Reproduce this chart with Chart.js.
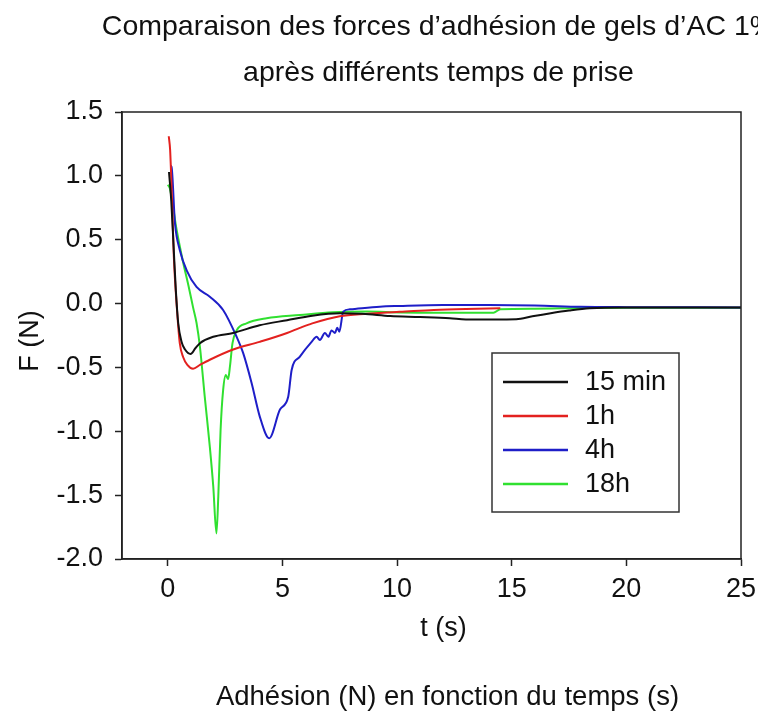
<!DOCTYPE html>
<html lang="fr">
<head>
<meta charset="utf-8">
<title>Comparaison des forces d’adhésion</title>
<script src="https://cdn.jsdelivr.net/npm/chart.js@4.4.1/dist/chart.umd.min.js"></script>
<style>
  html, body { margin: 0; padding: 0; background: #fff; }
  #wrap { width: 758px; height: 717px; position: relative; }
</style>
</head>
<body>
<div id="wrap"><canvas id="chart"></canvas></div>
<script>
// tick labels on the time axis
const xTicks = [0, 5, 10, 15, 20, 25];

// 15 min
const t15min = [0.05, 0.15, 0.25, 0.35, 0.45, 0.6, 0.75, 0.99, 1.2, 1.4, 1.98, 2.85, 4.0, 5.2, 6.3, 7.5, 8.5, 9.7, 11.0, 12.3, 13.0, 14.2, 15.2, 15.9, 16.7, 17.5, 18.4, 20, 22, 25];
const f15min = [1.03, 0.8, 0.45, 0.1, -0.15, -0.3, -0.36, -0.395, -0.35, -0.31, -0.26, -0.23, -0.17, -0.13, -0.095, -0.076, -0.08, -0.097, -0.105, -0.115, -0.125, -0.125, -0.123, -0.1, -0.076, -0.055, -0.037, -0.03, -0.03, -0.03];

// 1h
const t1h = [0.04, 0.1, 0.2, 0.26, 0.4, 0.52, 0.67, 0.85, 1.1, 1.4, 1.83, 2.85, 4.0, 5.2, 5.76, 6.3, 7.5, 8.7, 9.4, 10.1, 11.6, 13.0, 14.5];
const f1h = [1.31, 1.2, 0.7, 0.37, -0.05, -0.31, -0.42, -0.48, -0.51, -0.48, -0.44, -0.36, -0.3, -0.23, -0.19, -0.155, -0.1, -0.08, -0.071, -0.065, -0.05, -0.042, -0.037];

// 4h
const t4h = [0.1, 0.16, 0.31, 0.52, 0.82, 1.25, 1.83, 2.41, 3.0, 3.29, 3.65, 4.01, 4.42, 4.89, 5.25, 5.4, 5.76, 6.27, 6.49, 6.63, 6.85, 7.0, 7.14, 7.29, 7.39, 7.48, 7.65, 7.94, 9.25, 10.1, 12, 14, 16, 18, 20, 25];
const f4h = [1.08, 1.07, 0.63, 0.42, 0.26, 0.13, 0.054, -0.05, -0.26, -0.39, -0.62, -0.885, -1.055, -0.83, -0.73, -0.52, -0.415, -0.3, -0.26, -0.285, -0.23, -0.26, -0.21, -0.23, -0.19, -0.22, -0.063, -0.045, -0.024, -0.019, -0.012, -0.012, -0.015, -0.025, -0.028, -0.03];

// 18h
const t18h = [0.0, 0.09, 0.38, 0.67, 0.9, 1.1, 1.25, 1.4, 1.61, 1.83, 1.98, 2.12, 2.2, 2.3, 2.41, 2.53, 2.63, 2.71, 2.82, 3.0, 3.43, 4.31, 5.76, 7.2, 8.7, 10.1, 12, 14.2, 14.5, 16, 18, 20, 25];
const f18h = [0.93, 0.9, 0.58, 0.32, 0.14, -0.03, -0.15, -0.34, -0.73, -1.12, -1.43, -1.8, -1.51, -0.99, -0.68, -0.56, -0.59, -0.49, -0.31, -0.21, -0.155, -0.115, -0.09, -0.068, -0.063, -0.07, -0.072, -0.071, -0.045, -0.04, -0.035, -0.033, -0.033];

const seriesLabels = ['15 min', '1h', '4h', '18h'];
const seriesColors = ['#111111', '#e3211f', '#1e1ec8', '#30e030'];

const pts = (xs, ys) => xs.map((x, i) => ({ x: x, y: ys[i] }));
const allData = [pts(t15min, f15min), pts(t1h, f1h), pts(t4h, f4h), pts(t18h, f18h)];

const FONT = '"Liberation Sans", Arial, sans-serif';

// titles, axis titles, frame and the boxed legend inside the plot
const decor = {
  id: 'decor',
  afterDraw(chart) {
    const { ctx, chartArea } = chart;
    const cx = (chartArea.left + chartArea.right) / 2;
    ctx.save();
    ctx.strokeStyle = '#222';
    ctx.lineWidth = 1.5;
    ctx.strokeRect(chartArea.left, chartArea.top, chartArea.width, chartArea.height);

    ctx.fillStyle = '#111';
    ctx.textAlign = 'center';
    ctx.textBaseline = 'middle';
    ctx.font = '28.5px ' + FONT;
    ctx.fillText('Comparaison des forces d’adhésion de gels d’AC 1%', cx + 7, 27);
    ctx.fillText('après différents temps de prise', cx + 7, 73);
    ctx.font = '27.5px ' + FONT;
    ctx.fillText('Adhésion (N) en fonction du temps (s)', cx + 16, 697);
    ctx.font = '27px ' + FONT;
    ctx.fillText('t (s)', cx + 12, 629);
    ctx.save();
    ctx.translate(31, 341);
    ctx.rotate(-Math.PI / 2);
    ctx.fillText('F (N)', 0, 0);
    ctx.restore();

    // legend
    const bx = 492, by = 353, bw = 187, bh = 159;
    ctx.fillStyle = '#fff';
    ctx.fillRect(bx, by, bw, bh);
    ctx.strokeStyle = '#333';
    ctx.lineWidth = 1.5;
    ctx.strokeRect(bx, by, bw, bh);
    ctx.font = '27px ' + FONT;
    ctx.textAlign = 'left';
    chart.data.datasets.forEach((ds, i) => {
      const y = 382 + i * 34;
      ctx.strokeStyle = ds.borderColor;
      ctx.lineWidth = 2.5;
      ctx.beginPath();
      ctx.moveTo(503, y);
      ctx.lineTo(568, y);
      ctx.stroke();
      ctx.fillStyle = '#111';
      ctx.fillText(ds.label, 585, y + 1);
    });
    ctx.restore();
  }
};

new Chart(document.getElementById('chart'), {
  type: 'line',
  data: {
    datasets: seriesLabels.map((lab, i) => ({
      label: lab,
      data: allData[i],
      borderColor: seriesColors[i],
      backgroundColor: seriesColors[i],
      borderWidth: 2,
      pointRadius: 0,
      cubicInterpolationMode: 'monotone',
      fill: false
    }))
  },
  options: {
    responsive: true,
    maintainAspectRatio: false,
    animation: false,
    layout: { padding: { top: 112, right: 0, bottom: 68, left: 0 } },
    plugins: {
      legend: { display: false },
      title: { display: false },
      tooltip: { enabled: false }
    },
    scales: {
      x: {
        type: 'linear',
        min: -2,
        max: 25,
        afterBuildTicks: (axis) => { axis.ticks = xTicks.map(v => ({ value: v })); },
        afterFit: (axis) => { axis.height = 90; axis.paddingRight = 17; axis.paddingLeft = 0; },
        grid: { drawOnChartArea: false, tickLength: 7, color: '#222', tickWidth: 1.5 },
        border: { color: '#222', width: 1.5 },
        ticks: { color: '#111', font: { family: FONT, size: 27 }, padding: 7, maxRotation: 0 }
      },
      y: {
        min: -2,
        max: 1.5,
        afterFit: (axis) => { axis.width = 122; },
        grid: { drawOnChartArea: false, tickLength: 7, color: '#222', tickWidth: 1.5 },
        border: { color: '#222', width: 1.5 },
        ticks: { stepSize: 0.5, color: '#111', font: { family: FONT, size: 27 }, padding: 12, callback: v => v.toFixed(1) }
      }
    }
  },
  plugins: [decor]
});
</script>
</body>
</html>
